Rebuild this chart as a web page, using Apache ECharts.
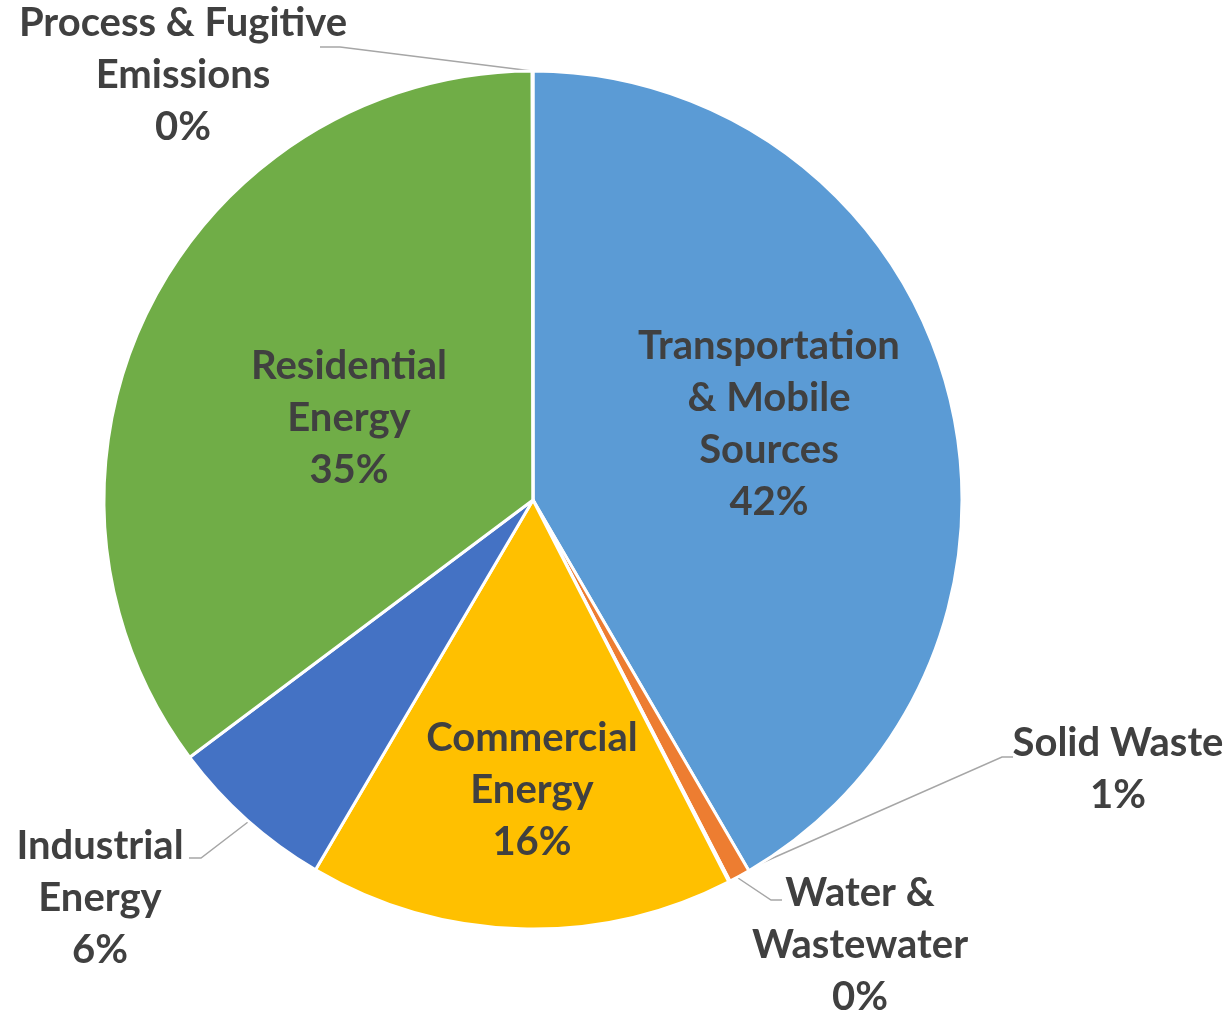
<!DOCTYPE html>
<html>
<head>
<meta charset="utf-8">
<script src="https://cdn.jsdelivr.net/npm/echarts@6/dist/echarts.min.js"></script>
<style>
html,body{margin:0;padding:0;background:#fff;}
#chart{width:1230px;height:1014px;}
</style>
</head>
<body>
<div id="chart"></div>
<script>
// ---- data ----
var categories = [
  'Transportation\n& Mobile\nSources',
  'Solid Waste',
  'Water &\nWastewater',
  'Commercial\nEnergy',
  'Industrial\nEnergy',
  'Residential\nEnergy',
  'Process & Fugitive\nEmissions'
];
var values = [41.6, 0.8, 0.05, 16.0, 6.3, 35.2, 0.03];
var sliceColors = ['#5B9BD5', '#ED7D31', '#A5A5A5', '#FFC000', '#4472C4', '#70AD47', '#264478'];

// label placement (layout only)
var labelPos = [
  {x: 769, y: 424},
  {x: 1118, y: 769},
  {x: 860, y: 945},
  {x: 532, y: 790},
  {x: 100, y: 898},
  {x: 349, y: 418},
  {x: 183, y: 75}
];
var leaderLines = {
  1: [[748, 869], [1002, 757], [1013, 757]],
  2: [[738, 878], [771, 900], [782, 900]],
  4: [[248, 822], [201, 858], [189, 858]],
  6: [[532, 71], [340, 47], [320, 47]]
};

var chart = echarts.init(document.getElementById('chart'), null, {renderer: 'canvas'});
var data = categories.map(function (c, i) {
  return {
    name: c,
    value: values[i],
    itemStyle: {color: sliceColors[i]},
    labelLine: {show: !!leaderLines[i]}
  };
});

chart.setOption({
  animation: false,
  series: [{
    type: 'pie',
    center: [533, 500],
    radius: [0, 429],
    startAngle: 90,
    clockwise: true,
    avoidLabelOverlap: false,
    minShowLabelAngle: 0,
    data: data,
    itemStyle: {borderColor: '#ffffff', borderWidth: 3},
    label: {
      show: true,
      position: 'outside',
      formatter: function (p) { return p.name + '\n' + Math.round(p.percent) + '%'; },
      color: '#404040',
      fontFamily: 'Lato',
      fontWeight: 'bold',
      fontSize: 40,
      lineHeight: 52,
      align: 'center'
    },
    labelLine: {
      show: true,
      lineStyle: {color: '#A6A6A6', width: 1.5}
    },
    labelLayout: function (params) {
      var i = params.dataIndex;
      var pos = labelPos[i];
      var res = {
        x: pos.x,
        y: pos.y,
        align: 'center',
        verticalAlign: 'middle'
      };
      if (leaderLines[i]) res.labelLinePoints = leaderLines[i];
      return res;
    }
  }]
});
</script>
</body>
</html>
